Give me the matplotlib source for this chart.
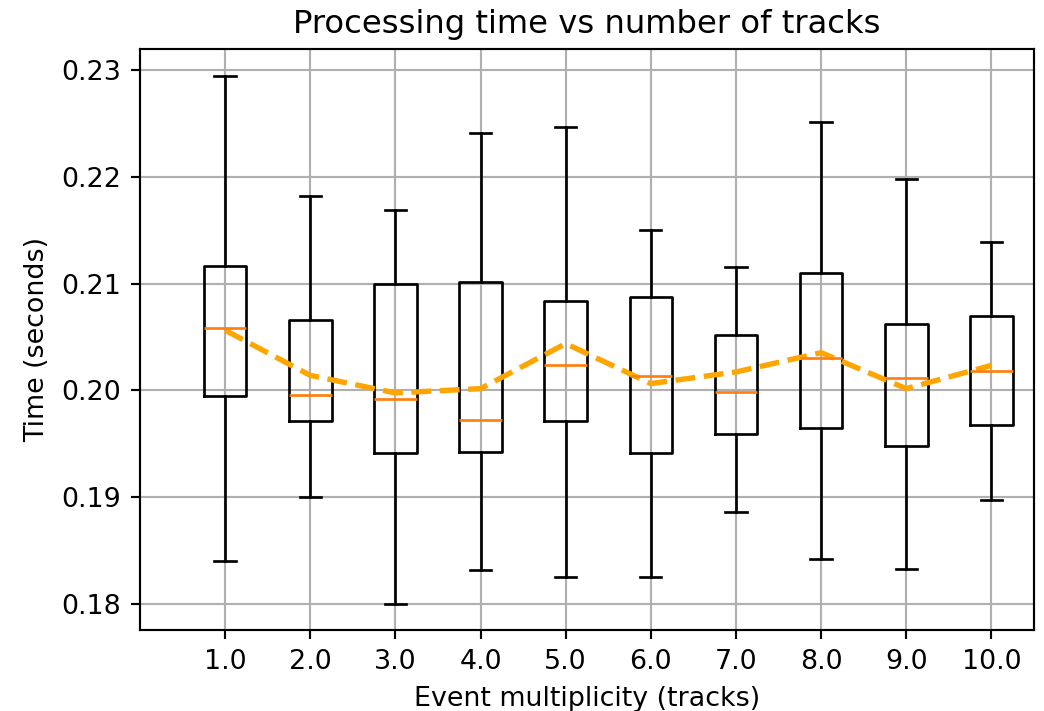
#!/usr/bin/env python3
"""Processing time vs number of tracks: box plot per multiplicity with mean trend."""
import matplotlib

matplotlib.use("Agg")
import matplotlib.pyplot as plt

multiplicity = ["1.0", "2.0", "3.0", "4.0", "5.0", "6.0", "7.0", "8.0", "9.0", "10.0"]
whisker_lo = [0.18403, 0.18997, 0.18000, 0.18313, 0.18253, 0.18247, 0.18859, 0.18419, 0.18325, 0.18972]
q1 = [0.19944, 0.19710, 0.19410, 0.19420, 0.19712, 0.19410, 0.19591, 0.19650, 0.19482, 0.19672]
median = [0.20581, 0.19956, 0.19916, 0.19719, 0.20234, 0.20138, 0.19984, 0.20300, 0.20113, 0.20181]
q3 = [0.21165, 0.20659, 0.20994, 0.21015, 0.20837, 0.20878, 0.20516, 0.21100, 0.20625, 0.20700]
whisker_hi = [0.22950, 0.21822, 0.21688, 0.22412, 0.22469, 0.21506, 0.21160, 0.22513, 0.21985, 0.21394]
mean = [0.20563, 0.20140, 0.19975, 0.20016, 0.20438, 0.20063, 0.20172, 0.20353, 0.20016, 0.20234]

DPI = 193.33
fig = plt.figure(figsize=(1044 / DPI, 711 / DPI), dpi=DPI)
ax = fig.add_axes([0.1341, 0.1139, 0.8563, 0.8168])

positions = list(range(1, len(multiplicity) + 1))
stats = [
    dict(whislo=lo, q1=a, med=m, q3=b, whishi=hi, fliers=[], label=lab)
    for lo, a, m, b, hi, lab in zip(whisker_lo, q1, median, q3, whisker_hi, multiplicity)
]
ax.bxp(stats, positions=positions, widths=0.5, showfliers=False,
       medianprops=dict(color="#ff7f0e"))
ax.plot(positions, mean, ls="--", color="orange", lw=2)

ax.set_xlim(0, 10.5)
ax.set_xticks(positions)
ax.set_xticklabels(multiplicity)
ax.grid(True)
ax.set_axisbelow(True)
ax.set_title("Processing time vs number of tracks")
ax.set_xlabel("Event multiplicity (tracks)")
ax.set_ylabel("Time (seconds)")

fig.savefig("out.png", dpi=DPI)
